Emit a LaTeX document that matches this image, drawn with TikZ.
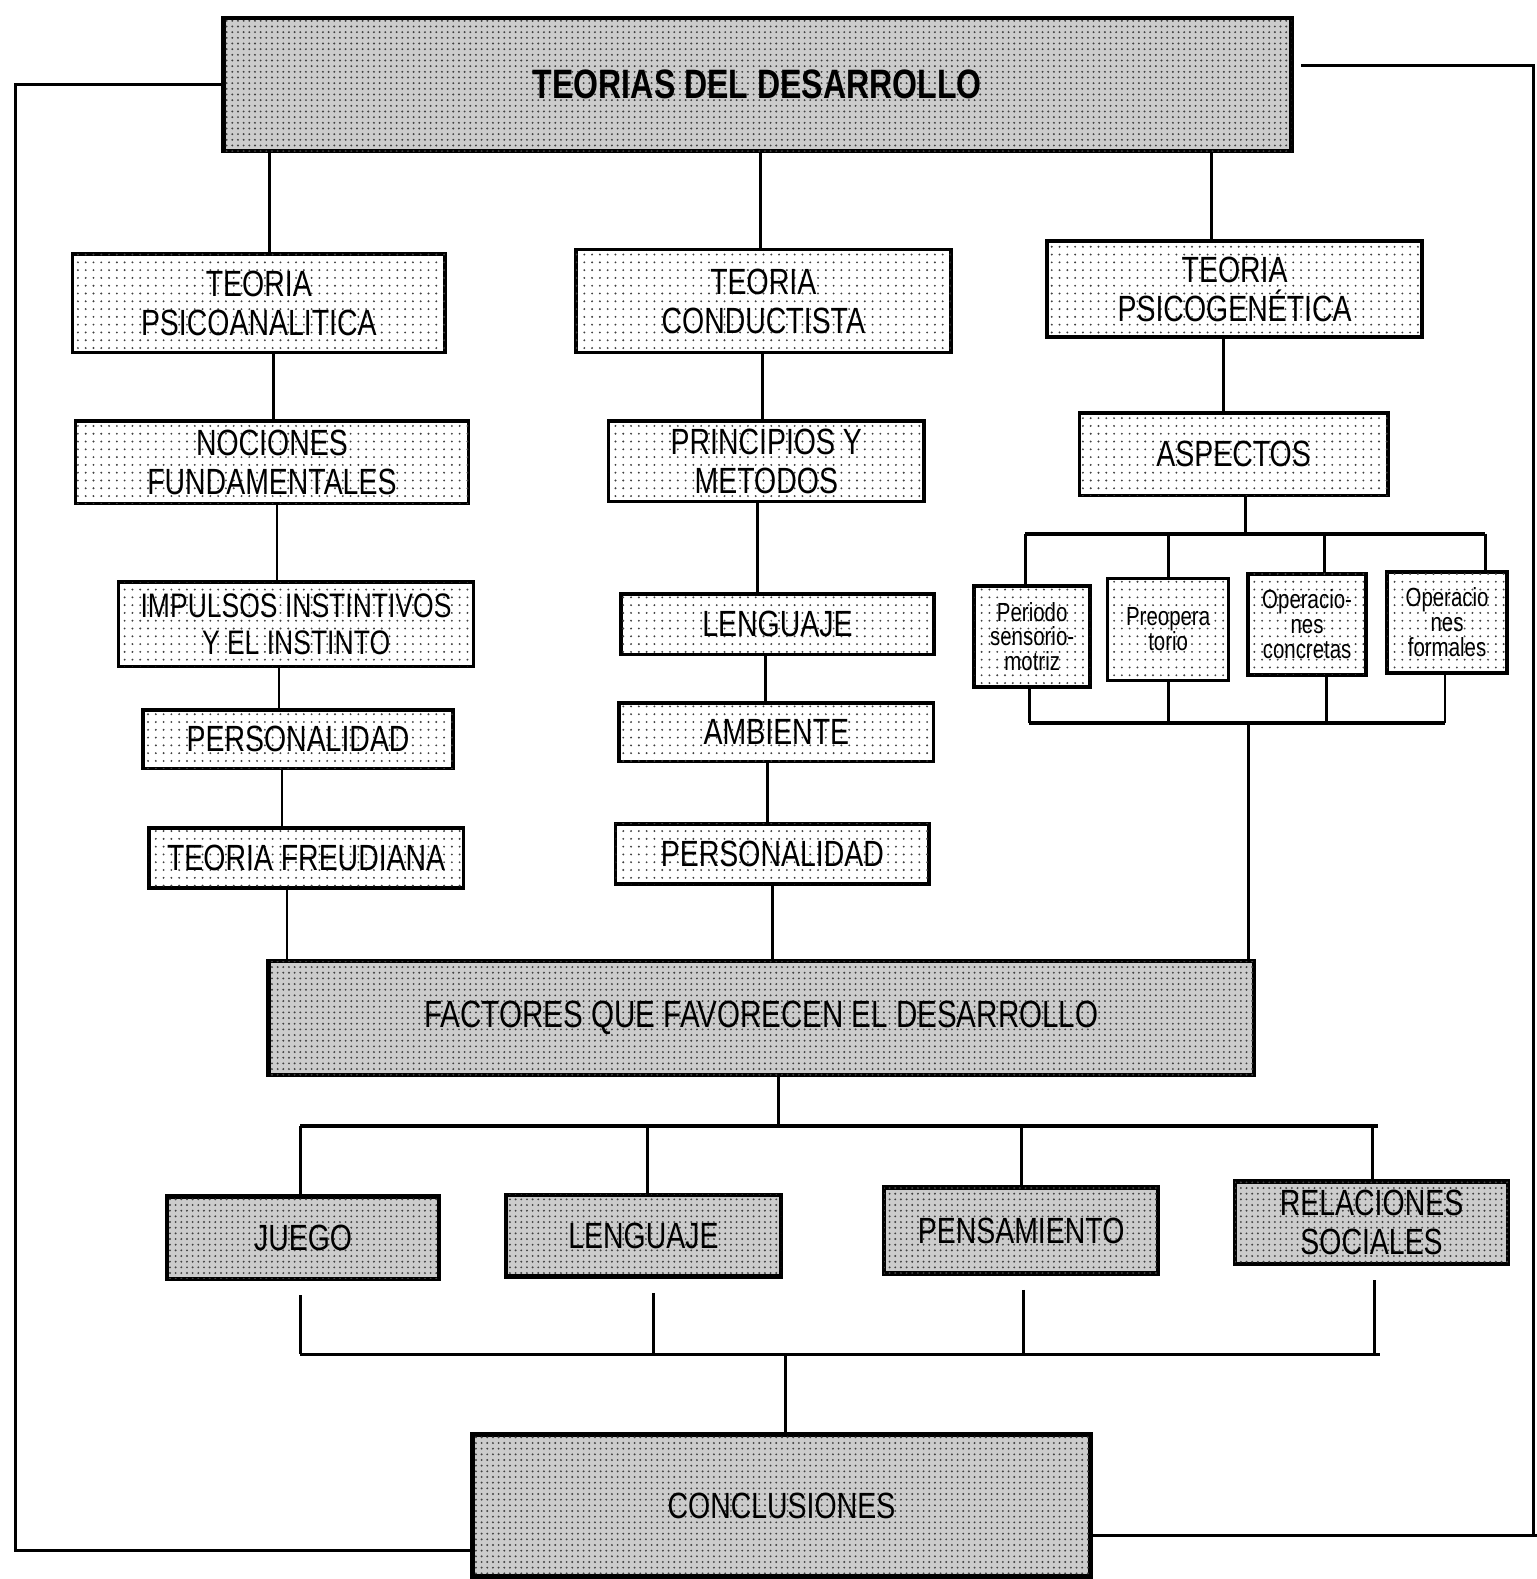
\documentclass[tikz,border=0pt]{standalone}
\usepackage{fontspec}
\setmainfont{Liberation Sans}[FakeStretch=0.78]
\usetikzlibrary{patterns.meta}
\tikzset{
  lbox/.style={draw, line width=1pt, rectangle, inner sep=0pt, align=center,
    font=\fontsize{10.3}{11}\selectfont, fill=white,
    postaction={pattern={Dots[distance=2.2pt, radius=0.3pt]}, pattern color=black!75}},
  sbox/.style={lbox, font=\fontsize{7.4}{7}\selectfont},
  dbox/.style={draw, line width=1.3pt, rectangle, inner sep=0pt, align=center,
    font=\fontsize{10.3}{11}\selectfont, fill=black!20,
    postaction={pattern={Dots[distance=1.6pt, radius=0.3pt]}, pattern color=black!75}},
  conn/.style={line width=0.8pt},
  bar/.style={line width=1.1pt},
  frame/.style={line width=0.9pt}
}
\begin{document}
\begin{tikzpicture}[x=0.01cm, y=-0.01cm]
\useasboundingbox (0,0) rectangle (1526,1568);
% main boxes
\node[dbox, minimum width=10.60cm, minimum height=1.32cm, font=\fontsize{11.6}{12}\bfseries] (title) at (752,84) {TEORIAS DEL DESARROLLO};
\node[lbox, minimum width=3.70cm, minimum height=0.98cm] (psico) at (257,301) {TEORIA\\PSICOANALITICA};
\node[lbox, minimum width=3.90cm, minimum height=0.82cm] (noc) at (270,459) {NOCIONES\\FUNDAMENTALES};
\node[lbox, minimum width=3.52cm, minimum height=0.84cm, font=\fontsize{9.6}{10.6}\selectfont] (imp) at (294,620) {IMPULSOS INSTINTIVOS\\Y EL INSTINTO};
\node[lbox, minimum width=3.08cm, minimum height=0.58cm] (per1) at (296,734) {PERSONALIDAD};
\node[lbox, minimum width=3.12cm, minimum height=0.60cm] (freud) at (304,852) {TEORIA FREUDIANA};
\node[lbox, minimum width=3.72cm, minimum height=1.02cm] (cond) at (758,299) {TEORIA\\CONDUCTISTA};
\node[lbox, minimum width=3.13cm, minimum height=0.80cm] (princ) at (761,458) {PRINCIPIOS Y\\METODOS};
\node[lbox, minimum width=3.11cm, minimum height=0.60cm] (leng1) at (772,620) {LENGUAJE};
\node[lbox, minimum width=3.12cm, minimum height=0.58cm] (amb) at (771,727) {AMBIENTE};
\node[lbox, minimum width=3.11cm, minimum height=0.60cm] (per2) at (767,848) {PERSONALIDAD};
\node[lbox, minimum width=3.72cm, minimum height=0.95cm] (psig) at (1226,287) {TEORIA\\PSICOGENÉTICA};
\node[lbox, minimum width=3.06cm, minimum height=0.82cm] (asp) at (1225,451) {ASPECTOS};
\node[sbox, minimum width=1.15cm, minimum height=1.00cm] (s1) at (1025,632) {Periodo\\sensorio-\\motriz};
\node[sbox, minimum width=1.20cm, minimum height=1.01cm] (s2) at (1160,625) {Preopera\\torio};
\node[sbox, minimum width=1.17cm, minimum height=1.00cm] (s3) at (1298,620) {Operacio-\\nes\\concretas};
\node[sbox, minimum width=1.19cm, minimum height=1.00cm] (s4) at (1437,618) {Operacio\\nes\\formales};
\node[dbox, minimum width=9.78cm, minimum height=1.13cm, font=\fontsize{10.7}{11}\selectfont] (fact) at (756,1011) {FACTORES QUE FAVORECEN EL DESARROLLO};
\node[dbox, minimum width=2.70cm, minimum height=0.82cm] (juego) at (301,1229) {JUEGO};
\node[dbox, minimum width=2.73cm, minimum height=0.81cm] (leng2) at (639,1227) {LENGUAJE};
\node[dbox, minimum width=2.72cm, minimum height=0.85cm] (pens) at (1014,1222) {PENSAMIENTO};
\node[dbox, minimum width=2.71cm, minimum height=0.82cm] (rel) at (1362,1214) {RELACIONES\\SOCIALES};
\node[dbox, minimum width=6.13cm, minimum height=1.41cm] (concl) at (776,1495) {CONCLUSIONES};
% vertical chains
\foreach \x/\a/\b in {268/title/psico, 272/psico/noc, 275/noc/imp, 277/imp/per1, 280/per1/freud, 285/freud/fact,
  755/title/cond, 757/cond/princ, 752/princ/leng1, 760/leng1/amb, 762/amb/per2, 767/per2/fact,
  1203/title/psig, 1215/psig/asp}{
  \path (\x,0) coordinate (tmp);
  \draw[conn] (\a.south -| tmp) -- (\b.north -| tmp);
}
% aspectos branch
\coordinate (b1) at (0,530);
\coordinate (ax) at (1237,0);
\draw[conn] (asp.south -| ax) -- (ax |- b1);
\coordinate (k1) at (1018,0);
\coordinate (k4) at (1475,0);
\draw[bar] (k1 |- b1) -- (k4 |- b1);
\foreach \x/\n in {1018/s1, 1160/s2, 1315/s3, 1475/s4}{
  \path (\x,0) coordinate (tmp);
  \draw[conn] (tmp |- b1) -- (\n.north -| tmp);
}
\coordinate (b2) at (0,718);
\foreach \x/\n in {1022/s1, 1160/s2, 1317/s3, 1435/s4}{
  \path (\x,0) coordinate (tmp);
  \draw[conn] (\n.south -| tmp) -- (tmp |- b2);
}
\coordinate (kk1) at (1022,0);
\coordinate (kk4) at (1435,0);
\draw[bar] (kk1 |- b2) -- (kk4 |- b2);
\coordinate (m) at (1240,0);
\draw[conn] (m |- b2) -- (fact.north -| m);
% factores branch
\coordinate (b3) at (0,1118);
\coordinate (f0) at (773,0);
\draw[conn] (fact.south -| f0) -- (f0 |- b3);
\coordinate (g1) at (298,0);
\coordinate (g4) at (1368,0);
\draw[bar] (g1 |- b3) -- (g4 |- b3);
\foreach \x/\n in {298/juego, 643/leng2, 1014/pens, 1363/rel}{
  \path (\x,0) coordinate (tmp);
  \draw[conn] (tmp |- b3) -- (\n.north -| tmp);
}
% bottom branch
\coordinate (b4) at (0,1345);
\foreach \x/\n in {298/juego, 649/leng2, 1016/pens, 1365/rel}{
  \path (\x,0) coordinate (tmp);
  \path ([yshift=-0.14cm]\n.south) coordinate (tmpa);
  \draw[conn] (tmpa -| tmp) -- (tmp |- b4);
}
\coordinate (h1) at (298,0);
\coordinate (h4) at (1370,0);
\draw[bar] (h1 |- b4) -- (h4 |- b4);
\coordinate (c0) at (780,0);
\draw[conn] (c0 |- b4) -- (concl.north -| c0);
% outer frame
\coordinate (fx) at (15,0);
\coordinate (fb) at (0,1540);
\draw[frame] (title.west) -- (title.west -| fx) -- (fx |- fb) -- (fb -| concl.west);
\coordinate (fr) at (1292,65);
\coordinate (rx) at (1523,0);
\coordinate (rb) at (0,1525);
\coordinate (ex) at (1526,0);
\draw[frame] (fr) -- (fr -| rx) -- (rx |- rb);
\draw[frame] (rb -| concl.east) -- (rb -| ex);
\end{tikzpicture}
\end{document}
